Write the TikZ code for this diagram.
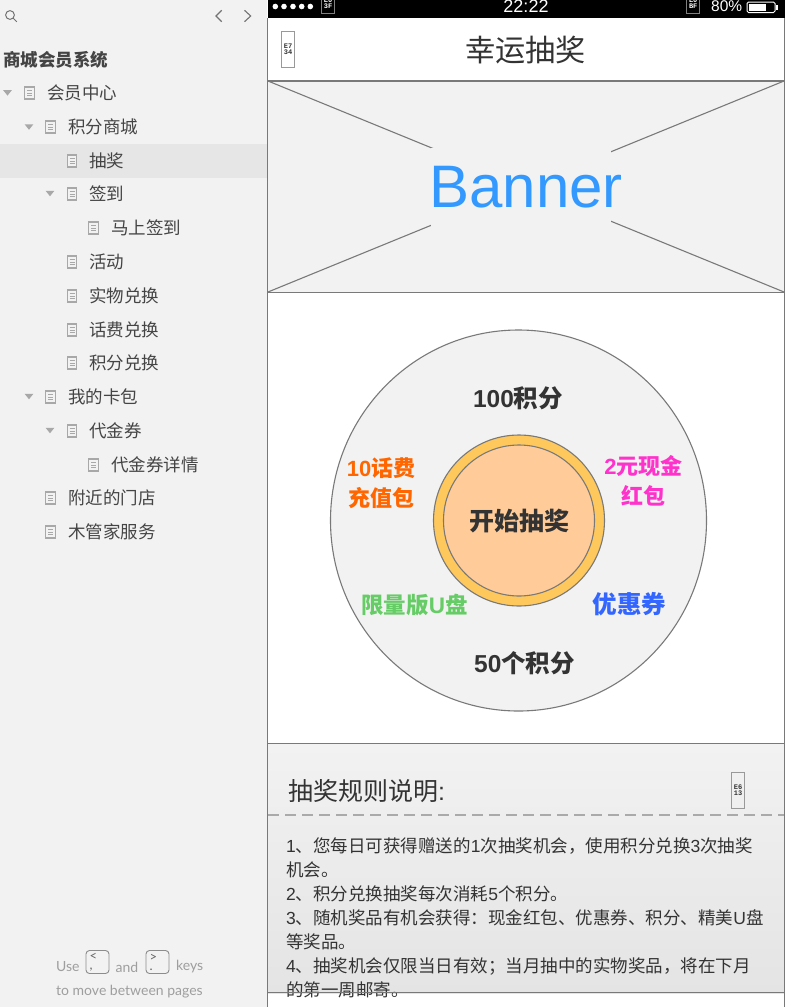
\documentclass[tikz,border=0pt]{standalone}
\usepackage{fontspec}
\usetikzlibrary{shapes.geometric}
\setmainfont{Noto Sans CJK SC}
\newfontfamily\latf{Liberation Sans}
\newfontfamily\keyf{Lato}
\newfontfamily\monof{Liberation Mono}
\newcommand\la[1]{{\latf #1}}
\newcommand\fs[2]{\fontsize{#1}{#2}\selectfont}
\definecolor{side}{HTML}{F2F2F2}
\definecolor{hilite}{HTML}{E6E6E6}
\definecolor{frameg}{HTML}{797979}
\definecolor{ink}{HTML}{333333}
\definecolor{sideink}{HTML}{444444}
\definecolor{iconn}{HTML}{A8A8A8}
\definecolor{ringc}{HTML}{FFC85C}
\definecolor{hubc}{HTML}{FFCC99}
\definecolor{bluet}{HTML}{3399FF}
\definecolor{orangep}{HTML}{FF6600}
\definecolor{pinkp}{HTML}{FF33CC}
\definecolor{greenp}{HTML}{66CC66}
\definecolor{bluep}{HTML}{3366FF}
\definecolor{dashc}{HTML}{AAAAAA}
\definecolor{gradtop}{HTML}{F2F2F2}
\definecolor{gradbot}{HTML}{E4E4E4}
\tikzset{
  x=1pt,y=-1pt,
  row/.style={anchor=west,inner sep=0pt,text=sideink,font=\fs{17.5}{20}},
  pageicon/.style={draw=iconn,fill=side,line width=1.2pt,minimum width=9.5pt,minimum height=12pt,inner sep=0pt},
  tri/.style={fill=iconn,draw=none},
  ftext/.style={inner sep=0pt,text=black!38,font=\keyf\fs{14}{16}},
  keybox/.style={draw=black!45,line width=.9pt,rounded corners=3.5pt,minimum width=23pt,minimum height=23pt,inner sep=0pt},
  tiny/.style={draw=black!40,line width=1pt,minimum width=13pt,minimum height=36pt,inner sep=0pt,align=center,text=black!80,font=\monof\bfseries\fs{7}{6}},
  tinyw/.style={draw=black!50,line width=1pt,minimum width=13pt,minimum height=20pt,inner sep=0pt,align=center,text=white,font=\monof\bfseries\fs{7}{6}},
  prize/.style={inner sep=0pt,align=center,font=\bfseries\fs{22}{30}},
  frameline/.style={draw=frameg,line width=1.1pt},
}
\newcommand\pagerow[5]{% name, icon x, y, text x, text
  \node[pageicon] (i#1) at (#2,#3) {};
  \draw[iconn,line width=.8pt] (#2-2.5,#3-2.8) -- (#2+2.5,#3-2.8) (#2-2.5,#3) -- (#2+2.5,#3) (#2-2.5,#3+2.8) -- (#2+2.5,#3+2.8);
  \node[row] (t#1) at (#4,#3) {#5};
}
\newcommand\trimark[2]{\fill[tri] (#1-4.3,#2-2.6) -- (#1+4.3,#2-2.6) -- (#1,#2+2.8) -- cycle;}
\begin{document}
\begin{tikzpicture}
\useasboundingbox (0,0) rectangle (803,1007);
\fill[white] (0,0) rectangle (803,1007);
% sidebar
\fill[side] (0,0) rectangle (267,1007);
\fill[hilite] (0,144) rectangle (267,177.5);
\draw[black!55,line width=1pt] (10,15) circle (4.4);
\draw[black!55,line width=1pt] (13.2,18.2) -- (16.8,21.8);
\draw[black!55,line width=1.1pt] (221.7,10.3) -- (216,16) -- (221.7,21.7);
\draw[black!55,line width=1.1pt] (244.5,10.3) -- (250.7,16) -- (244.5,21.7);
\node[anchor=west,inner sep=0pt,text=sideink,font=\bfseries\fs{17.5}{20}] (sys) at (3,59.5) {商城会员系统};
\pagerow{a}{29.5}{93}{47}{会员中心}\trimark{7.5}{92.8}
\pagerow{b}{50.5}{127}{68}{积分商城}\trimark{29}{127}
\pagerow{c}{72}{161}{89}{抽奖}
\pagerow{d}{72}{194}{89}{签到}\trimark{50}{193.5}
\pagerow{e}{93.5}{228}{111}{马上签到}
\pagerow{f}{72}{262}{89}{活动}
\pagerow{g}{72}{296}{89}{实物兑换}
\pagerow{h}{72}{330}{89}{话费兑换}
\pagerow{k}{72}{363}{89}{积分兑换}
\pagerow{l}{50.5}{397}{68}{我的卡包}\trimark{29}{396.5}
\pagerow{m}{72}{431}{89}{代金券}\trimark{50}{430.5}
\pagerow{n}{93.5}{465}{111}{代金券详情}
\pagerow{o}{50.5}{498}{68}{附近的门店}
\pagerow{p}{50.5}{532}{68}{木管家服务}
% footer
\node[ftext,anchor=west] (fuse) at (56,967) {Use};
\node[keybox] (k1) at (97.5,962) {};
\node[inner sep=0pt,text=black!60,font=\keyf\fs{13}{10},align=left] (k1t) at (93.5,962.5) {<\\[-1pt],};
\node[ftext,anchor=west] (fand) at (115.5,967) {and};
\node[keybox] (k2) at (157.5,962) {};
\node[inner sep=0pt,text=black!60,font=\keyf\fs{13}{10},align=left] (k2t) at (153.5,962.5) {>\\[-1pt].};
\node[ftext,anchor=west] (fkeys) at (176,967) {keys};
\node[ftext,anchor=west] (fline) at (56,992) {to move between pages};
% status bar
\fill[black] (268,0) rectangle (785,18);
\foreach \dx in {275.3,284,293,301.7,310.3} \fill[white] (\dx,6.5) circle (2.8);
\node[tinyw] (s1) at (328,3.5) {E0\\3F};
\node[tinyw] (s2) at (693.2,3.5) {E0\\BF};
\node[inner sep=0pt,text=white,font=\latf\fs{18}{20}] (clock) at (526,6) {22:22};
\node[inner sep=0pt,text=white,font=\latf\fs{15.5}{18},anchor=west] (batt) at (711,6.5) {80\%};
\draw[white,line width=1pt,rounded corners=1.5pt] (747,2) rectangle (775,12.5);
\fill[white] (748.8,3.8) rectangle (766,10.7);
\fill[white] (775.5,5) rectangle (777.5,9.5);
% header
\node[inner sep=0pt,text=ink,font=\fs{30.2}{34}] (title) at (525.5,50) {幸运抽奖};
\node[tiny] (back) at (288,49) {E7\\34};
% banner
\fill[side] (268,81) rectangle (784,292);
\draw[frameline] (268,81) -- (784,292) (784,81) -- (268,292);
\node[fill=side,inner sep=0pt,minimum width=180pt,minimum height=78pt] (bbg) at (521,186.5) {};
\node[inner sep=0pt,text=bluet,font=\latf\fs{60}{60}] (bt) at (526,187) {Banner};
\draw[frameline] (268,292.5) -- (784,292.5);
\draw[draw=frameg,line width=2pt] (268,81) -- (785,81);
% wheel
\node[ellipse,draw=frameg,fill=side,line width=1.1pt,minimum width=376pt,minimum height=381pt,inner sep=0pt] (wheel) at (518.5,520.5) {};
\node[circle,draw=frameg,fill=ringc,line width=1.1pt,minimum size=171pt,inner sep=0pt] (ring) at (519,520.5) {};
\node[circle,draw=frameg,fill=hubc,line width=1.1pt,minimum size=151pt,inner sep=0pt] (hub) at (519,520.5) {};
\node[prize,text=ink,font=\bfseries\fs{25}{28}] (start) at (519.5,521.5) {开始抽奖};
\node[prize,text=ink,font=\bfseries\fs{24.5}{28}] (p1) at (518,398.5) {\la{100}积分};
\node[prize,text=ink,font=\bfseries\fs{24.5}{28}] (p2) at (524.5,663.5) {\la{50}个积分};
\node[prize,text=orangep] (p3) at (381,483) {\la{10}话费\\充值包};
\node[prize,text=pinkp] (p4) at (643.5,480.5) {\la{2}元现金\\红包};
\node[prize,text=greenp,font=\bfseries\fs{22.5}{28}] (p5) at (414.5,605.5) {限量版\la{U}盘};
\node[prize,text=bluep,font=\bfseries\fs{24.5}{28}] (p6) at (629.5,604.5) {优惠券};
% rules panel
\shade[top color=gradtop,bottom color=gradbot] (268,744) rectangle (784,993);
\draw[frameline] (268,743.5) -- (784,743.5);
\node[anchor=west,inner sep=0pt,text=ink,font=\fs{25}{28}] (rulet) at (288,791) {抽奖规则说明\la{:}};
\node[tiny] (more) at (738,790) {E6\\13};
\draw[dashc,line width=2pt,dash pattern=on 11pt off 6pt] (268,814.5) -- (784,814.5);
\node[anchor=north west,inner sep=0pt,align=left,text=ink,font=\fs{17.5}{24}] (rules) at (286,837) {%
\la{1}、您每日可获得赠送的\la{1}次抽奖机会，使用积分兑换\la{3}次抽奖\\
机会。\\
\la{2}、积分兑换抽奖每次消耗\la{5}个积分。\\
\la{3}、随机奖品有机会获得：现金红包、优惠券、积分、精美\la{U}盘\\
等奖品。\\
\la{4}、抽奖机会仅限当日有效；当月抽中的实物奖品，将在下月\\
的第一周邮寄。};
\draw[frameline] (268,992.5) -- (784,992.5);
% phone frame
\draw[frameline] (267.5,18) -- (267.5,1007);
\draw[frameline] (784.5,18) -- (784.5,1007);
\end{tikzpicture}
\end{document}
